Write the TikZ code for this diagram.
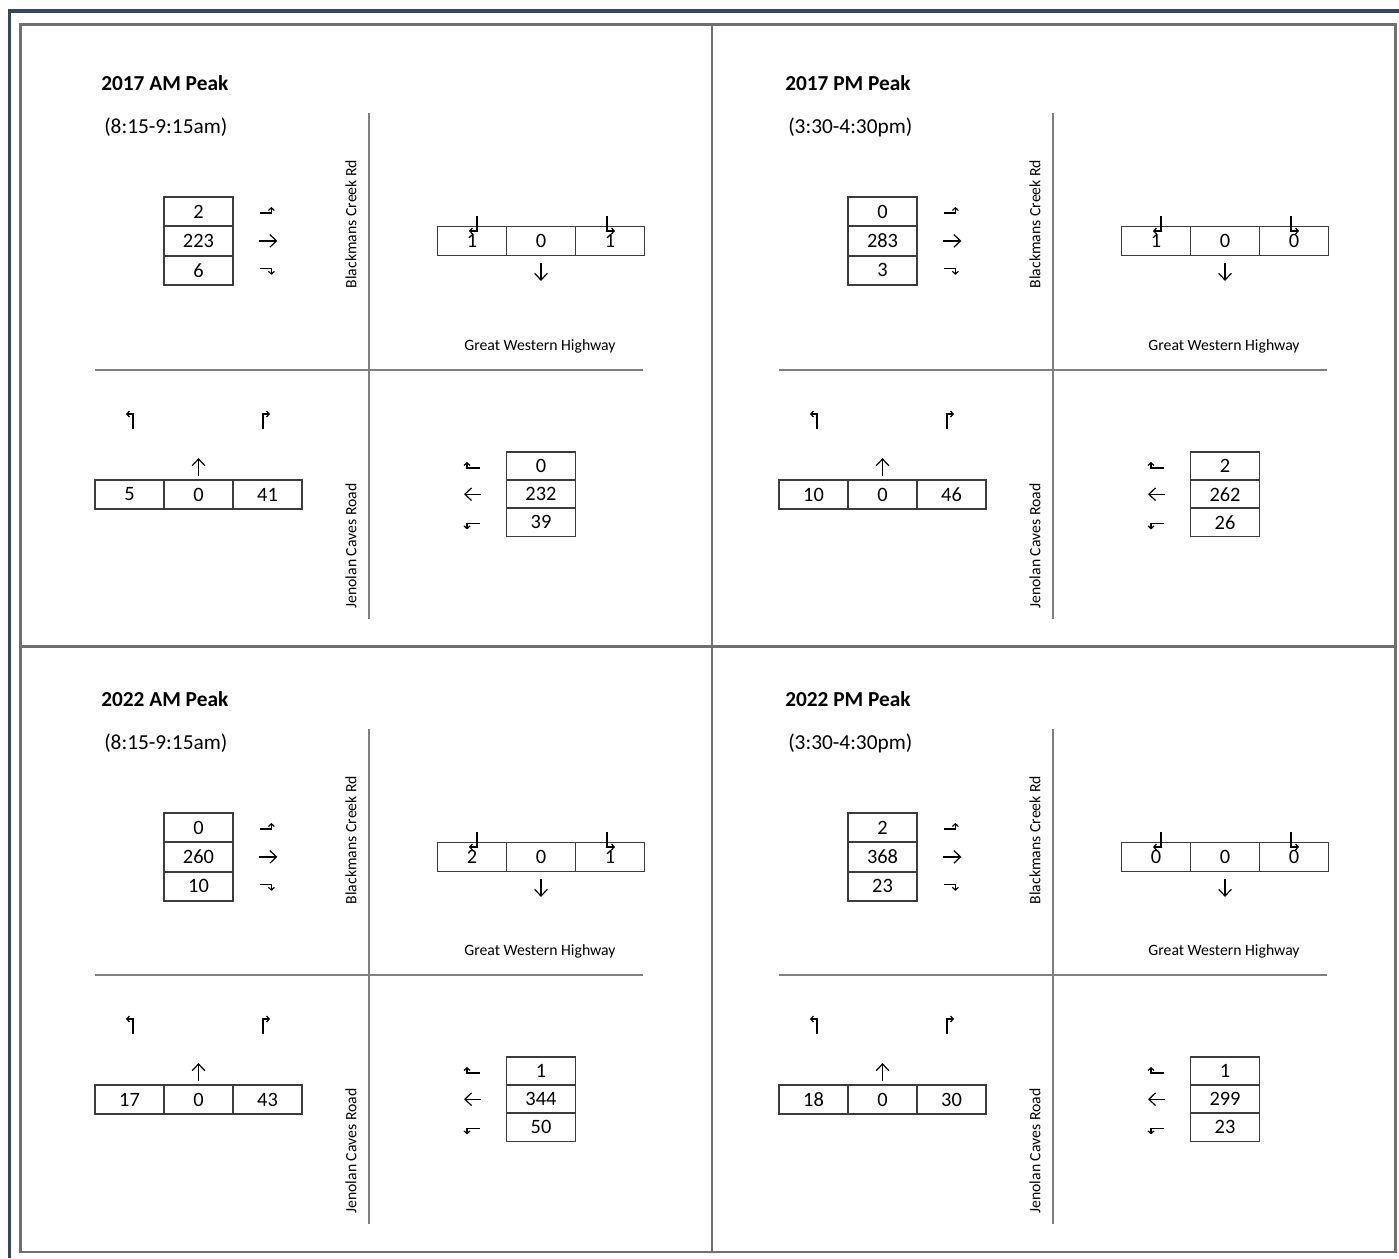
\documentclass[tikz,border=0pt]{standalone}
\usepackage{fontspec}
\setmainfont{Carlito}
\usetikzlibrary{arrows.meta}

\definecolor{framecol}{RGB}{52,73,94}
\definecolor{linegray}{RGB}{112,112,112}
\definecolor{roadgray}{RGB}{128,128,128}
\definecolor{boxgray}{RGB}{60,60,60}

\tikzset{
  cell/.style={draw=boxgray, line width=1.3pt, minimum width=51.75pt, minimum height=21.75pt,
    inner sep=0pt, font=\fontsize{15.3}{18}\selectfont},
  titlelabel/.style={anchor=west, inner sep=0pt, font=\fontsize{16}{19}\selectfont\bfseries},
  timelabel/.style={anchor=west, inner sep=0pt, font=\fontsize{16}{19}\selectfont},
  roadlabel/.style={inner sep=0pt, font=\fontsize{11.8}{14}\selectfont},
  road/.style={draw=roadgray, line width=1.9pt},
  divider/.style={draw=linegray, line width=1.8pt},
  turn/.style={line width=0.9pt, -{Straight Barb[length=2pt,width=4.5pt]}},
  thru/.style={line width=0.9pt, -{Straight Barb[length=5pt,width=9.5pt]}},
}

% one panel: prefix, title, time, west, north, south, east, shift of lower half
\newcommand{\peakpanel}[8]{%
  \node[titlelabel] (#1title) at (101,83) {#2};
  \node[timelabel] (#1time) at (104,127) {#3};
  \coordinate (#1roadN) at (369,113);
  \node[roadlabel, rotate=90] (#1bcr) at (351,224) {Blackmans Creek Rd};
  % west approach
  \foreach \v [count=\i] in {#4}
    \node[cell] (#1w\i) at (198.5,{211.5+29.4*(\i-1)}) {\v};
  \draw[turn] ([shift={(26.5,1.5)}]#1w1.east) -- ++(11,0) -- ++(0,-6);
  \draw[thru] ([shift={(25.5,0)}]#1w2.east) -- ++(18,0);
  \draw[turn] ([shift={(26.5,-1.5)}]#1w3.east) -- ++(11,0) -- ++(0,6);
  % north approach
  \foreach \v [count=\i] in {#5}
    \node[cell] (#1n\i) at ({472+69*(\i-1)},241) {\v};
  \draw[turn] ([shift={(5,-25)}]#1n1.center) -- ++(0,15) -- ++(-8,0);
  \draw[turn] ([shift={(-3,-25)}]#1n3.center) -- ++(0,15) -- ++(8,0);
  \draw[thru] ([shift={(0,6.5)}]#1n2.south) -- ++(0,18);
  \begin{scope}[shift={(0,#8)}]
    \draw[road] (95,370) -- (643,370);
    \coordinate (#1roadS) at (369,619);
    \node[roadlabel] (#1gwh) at (540,346) {Great Western Highway};
    \node[roadlabel, rotate=90] (#1jcr) at (351,546) {Jenolan Caves Road};
    % south approach
    \foreach \v [count=\i] in {#6}
      \node[cell] (#1s\i) at ({129.5+69*(\i-1)},494.5) {\v};
    \draw[turn] ([shift={(3.5,-65.5)}]#1s1.center) -- ++(0,-15) -- ++(-7,0);
    \draw[turn] ([shift={(-4.5,-65.5)}]#1s3.center) -- ++(0,-15) -- ++(7,0);
    \draw[thru] ([shift={(0,-3)}]#1s2.north) -- ++(0,-18);
    % east approach
    \foreach \v [count=\i] in {#7}
      \node[cell, minimum height=21pt] (#1e\i) at (541,{466+28.2*(\i-1)}) {\v};
    \draw[turn] ([shift={(-61,2)}]#1e1.center) -- ++(-13,0) -- ++(0,-6);
    \draw[thru] ([shift={(-60,0)}]#1e2.center) -- ++(-17,0);
    \draw[turn] ([shift={(-61,1)}]#1e3.center) -- ++(-13,0) -- ++(0,6);
  \end{scope}
  \draw[road] (#1roadN) -- (#1roadS);
}

\begin{document}
\begin{tikzpicture}[x=0.75pt, y=-0.75pt]
  \useasboundingbox (0,0) rectangle (1399,1258);

  % frames
  \draw[framecol, line width=2.4pt] (1399,11) -- (9.5,11) -- (9.5,1258);
  \draw[divider] (20.5,24.5) rectangle (1395.5,1252);
  \draw[divider] (712,24.5) -- (712,1252);
  \draw[divider] (20.5,646.5) -- (1395.5,646.5);

  % 2017
  \peakpanel{am17}{2017 AM Peak}{(8:15-9:15am)}{2,223,6}{1,0,1}{5,0,41}{0,232,39}{0}
  \begin{scope}[shift={(684,0)}]
    \peakpanel{pm17}{2017 PM Peak}{(3:30-4:30pm)}{0,283,3}{1,0,0}{10,0,46}{2,262,26}{0}
  \end{scope}

  % 2022
  \begin{scope}[shift={(0,616)}]
    \peakpanel{am22}{2022 AM Peak}{(8:15-9:15am)}{0,260,10}{2,0,1}{17,0,43}{1,344,50}{-11}
  \end{scope}
  \begin{scope}[shift={(684,616)}]
    \peakpanel{pm22}{2022 PM Peak}{(3:30-4:30pm)}{2,368,23}{0,0,0}{18,0,30}{1,299,23}{-11}
  \end{scope}
\end{tikzpicture}
\end{document}
